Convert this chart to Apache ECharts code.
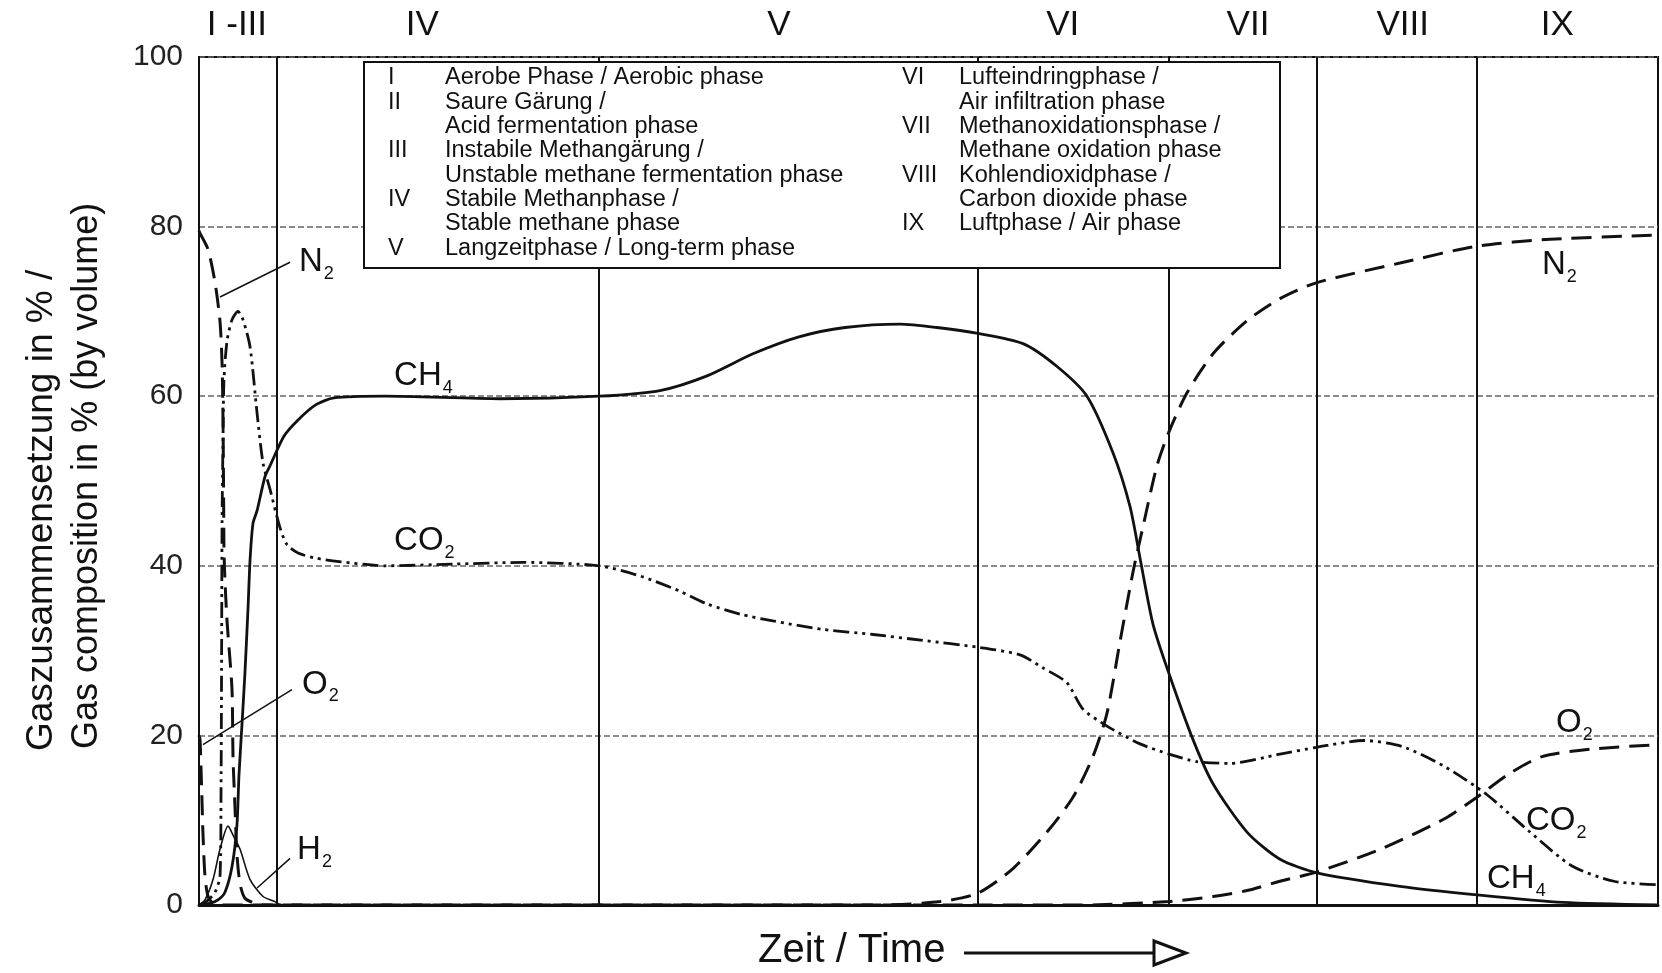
<!DOCTYPE html>
<html>
<head>
<meta charset="utf-8">
<script src="https://cdn.jsdelivr.net/npm/echarts@6/dist/echarts.min.js"></script>
<style>
html,body{margin:0;padding:0;background:#fff;}
#c{width:1662px;height:973px;}
</style>
</head>
<body>
<div id="c"></div>
<script>
const FONT = '"Liberation Sans", Arial, Helvetica, sans-serif';

// ---- Data: x = relative time across the plot (0..100), y = % by volume ----
const ch4 = [[0,0],[0.75,0.2],[1.30,0.6],[1.78,1.5],[2.26,4.5],[2.60,9.4],[2.74,15.3],[2.95,21.4],[3.15,27.4],[3.36,35],[3.50,40.7],[3.70,45],[3.98,46.5],[4.52,50.5],[4.87,51.8],[5.83,55.3],[6.79,57.2],[8.02,59.0],[9.25,59.8],[12.75,60],[20.63,59.7],[27.42,60],[31.67,60.7],[34.82,62.4],[37.97,65.0],[41.12,67.0],[44.28,68.1],[48.05,68.5],[50.58,68.1],[53.39,67.4],[56.48,66.2],[58.81,63.5],[60.86,60],[62.65,53.3],[63.81,47.0],[64.50,40.9],[65.39,33.1],[66.48,27.3],[68.13,19.5],[69.50,14.3],[71.83,8.6],[74.09,5.4],[76.63,3.8],[82.32,2.2],[87.59,1.2],[93.49,0.3],[100,0]];
const co2 = [[0,0],[0.41,0.3],[0.75,0.8],[1.10,1.5],[1.44,3.4],[1.51,13.5],[1.55,29.5],[1.58,45],[1.64,54],[1.71,61.9],[1.92,66.5],[2.26,69],[2.67,70],[3.02,69],[3.50,65.8],[3.98,58],[4.39,52.1],[4.87,49],[5.55,44.5],[6.03,42.5],[6.79,41.5],[8.02,40.9],[9.60,40.5],[12.75,40],[17.48,40.2],[22.21,40.4],[27.42,40],[30.23,38.8],[32.97,37.0],[34.82,35.5],[37.08,34.3],[39.34,33.5],[42.77,32.5],[46.20,31.9],[49.62,31.2],[53.39,30.4],[56.27,29.5],[57.8,28],[59.49,26.2],[60.59,23.1],[62.23,21.1],[64.50,19.0],[66.48,17.8],[68.40,16.9],[70.66,16.7],[74.09,17.8],[76.63,18.6],[79.85,19.4],[82.45,18.7],[85.40,16.3],[88.28,13.0],[91.16,8.7],[94.11,4.6],[96.98,2.8],[100,2.4]];
const n2 = [[0,79.5],[0.07,79.2],[0.62,77.3],[1.10,73.4],[1.44,68.8],[1.58,63.9],[1.64,58],[1.68,50],[1.71,42.3],[1.75,39.5],[1.92,33.5],[2.26,25.5],[2.33,17.5],[2.47,11.4],[2.60,6],[2.81,2.5],[3.15,0.8],[3.84,0.2],[4.5,0],[46.68,0],[50.79,0.4],[53.39,1.4],[55.79,4.3],[58.12,8.6],[59.90,12.7],[61.27,17.5],[62.23,22.6],[63.13,31.1],[64.02,39.3],[64.70,44.6],[65.66,51.8],[66.48,55.8],[67.72,60.4],[69.50,65.0],[71.83,68.9],[74.09,71.5],[76.63,73.4],[82.32,75.7],[87.59,77.7],[92.60,78.5],[100,79.0]];
const o2 = [[0,20],[0.07,19.5],[0.14,16],[0.21,12],[0.27,8.5],[0.41,3.4],[0.62,1],[0.96,0.2],[1.30,0],[60.59,0],[66.48,0.4],[69.50,1.0],[71.83,1.7],[74.09,2.8],[76.63,3.9],[81.01,6.6],[85.40,10.2],[87.59,12.7],[89.72,15.4],[92.05,17.5],[95.54,18.4],[100,18.9]];
const h2 = [[0,0],[0.41,0.6],[0.96,3],[1.44,6.6],[1.99,9.3],[2.40,8],[2.81,6.6],[3.50,3],[4.39,1],[5.21,0.4],[5.55,0]];

const phaseBoundaries = [5.35, 27.4, 53.4, 66.5, 76.6, 87.6];
const phaseNames = ['I -III', 'IV', 'V', 'VI', 'VII', 'VIII', 'IX'];
const phaseNameX = [2.6, 15.3, 39.75, 59.2, 71.9, 82.5, 93.1];
const yTickStep = 20;

const legendCol1 = [
  ['I', 'Aerobe Phase / Aerobic phase'],
  ['II', 'Saure Gärung /'],
  ['', 'Acid fermentation phase'],
  ['III', 'Instabile Methangärung /'],
  ['', 'Unstable methane fermentation phase'],
  ['IV', 'Stabile Methanphase /'],
  ['', 'Stable methane phase'],
  ['V', 'Langzeitphase / Long-term phase']
];
const legendCol2 = [
  ['VI', 'Lufteindringphase /'],
  ['', 'Air infiltration phase'],
  ['VII', 'Methanoxidationsphase /'],
  ['', 'Methane oxidation phase'],
  ['VIII', 'Kohlendioxidphase /'],
  ['', 'Carbon dioxide phase'],
  ['IX', 'Luftphase / Air phase']
];

const yTitle1 = 'Gaszusammensetzung in % /';
const yTitle2 = 'Gas composition in % (by volume)';
const xTitle = 'Zeit / Time';

// curve labels (anchor in data units: left edge, cap centre)
const curveLabels = [
  {main:'N', sub:'2', at:[6.85, 75.8]},
  {main:'O', sub:'2', at:[7.06, 26.0]},
  {main:'H', sub:'2', at:[6.72, 6.5]},
  {main:'CH', sub:'4', at:[13.37, 62.4]},
  {main:'CO', sub:'2', at:[13.37, 42.9]},
  {main:'N', sub:'2', at:[92.05, 75.5]},
  {main:'O', sub:'2', at:[93.01, 21.5]},
  {main:'CO', sub:'2', at:[90.95, 9.9]},
  {main:'CH', sub:'4', at:[88.28, 3.1]}
];
const leaders = [
  [[6.24, 75.8], [1.44, 71.7]],
  [[6.37, 25.4], [0.27, 18.9]],
  [[6.24, 5.5], [3.98, 2.0]]
];

// ---- chart ----
const INK = '#111';
const chart = echarts.init(document.getElementById('c'));

function curve(name, data, lineStyle) {
  return {
    name, type:'line', data, showSymbol:false, symbol:'none', smooth:0.25,
    lineStyle: Object.assign({color:INK}, lineStyle), silent:true, z:3
  };
}

chart.setOption({
  animation:false,
  backgroundColor:'#fff',
  grid:{left:199, right:4, top:57, bottom:68, show:true, borderColor:INK, borderWidth:2, backgroundColor:'transparent'},
  xAxis:{type:'value', min:0, max:100,
    axisLine:{show:true, onZero:false, lineStyle:{color:INK, width:3}},
    axisTick:{show:false}, axisLabel:{show:false}, splitLine:{show:false}},
  yAxis:{type:'value', min:0, max:100, interval:yTickStep,
    axisLine:{show:true, lineStyle:{color:INK, width:2}},
    axisTick:{show:false},
    axisLabel:{fontSize:30, color:'#222', margin:16, fontFamily:FONT},
    splitLine:{show:true, lineStyle:{color:'#666', width:1.5, type:[6,3]}}},
  series:[
    {name:'phases', type:'line', data:[], silent:true, z:2,
      markLine:{silent:true, symbol:['none','none'], label:{show:false},
        lineStyle:{type:'solid', color:INK, width:2},
        data: phaseBoundaries.map(v => ({xAxis:v}))}},
    curve('CO2', co2, {width:2.8, type:[16,5,3,5,3,5]}),
    curve('N2', n2, {width:3, type:[20,10]}),
    curve('O2', o2, {width:3, type:[20,10]}),
    curve('H2', h2, {width:1.6}),
    curve('CH4', ch4, {width:2.8})
  ]
});

// ---- annotations ----
const ctx = document.createElement('canvas').getContext('2d');
function textW(t, size){ ctx.font = size + 'px ' + FONT; return ctx.measureText(t).width; }
function px(p){ return chart.convertToPixel({gridIndex:0}, p); }

const g = [];
const LS = 33;
curveLabels.forEach(l => {
  const [x, y] = px(l.at);
  g.push({type:'text', x, y, z:120, silent:true,
    style:{text:l.main, font:LS+'px '+FONT, fill:INK, textAlign:'left', textVerticalAlign:'middle'}});
  g.push({type:'text', x: x + textW(l.main, LS) + 1, y: y + LS*0.36, z:120, silent:true,
    style:{text:l.sub, font:'18px '+FONT, fill:INK, textAlign:'left', textVerticalAlign:'middle'}});
});
leaders.forEach(([a, b]) => {
  const p1 = px(a), p2 = px(b);
  g.push({type:'line', z:110, silent:true, shape:{x1:p1[0], y1:p1[1], x2:p2[0], y2:p2[1]},
    style:{stroke:INK, lineWidth:1.5}});
});
phaseNames.forEach((t, i) => {
  const x = px([phaseNameX[i], 100])[0];
  g.push({type:'text', x, y:25, z:120, silent:true,
    style:{text:t, font:'35px '+FONT, fill:INK, textAlign:'center', textVerticalAlign:'middle'}});
});
// legend box
g.push({type:'rect', z:100, silent:true, shape:{x:364, y:62, width:916, height:206},
  style:{fill:'#fff', stroke:INK, lineWidth:2}});
const LF = 23.5, rowY0 = 78, rowStep = 24.3;
[[legendCol1, 388, 445], [legendCol2, 902, 959]].forEach(([rows, xn, xt]) => {
  rows.forEach((r, i) => {
    const y = rowY0 + i*rowStep;
    if (r[0]) g.push({type:'text', x:xn, y, z:120, silent:true,
      style:{text:r[0], font:LF+'px '+FONT, fill:INK, textAlign:'left', textVerticalAlign:'middle'}});
    g.push({type:'text', x:xt, y, z:120, silent:true,
      style:{text:r[1], font:LF+'px '+FONT, fill:INK, textAlign:'left', textVerticalAlign:'middle'}});
  });
});
// y-axis title (two lines, reading bottom to top)
g.push({type:'text', x:42, y:751, rotation:Math.PI/2, z:120, silent:true,
  style:{text:yTitle1, font:'37px '+FONT, fill:INK, textAlign:'left', textVerticalAlign:'middle'}});
g.push({type:'text', x:87, y:749, rotation:Math.PI/2, z:120, silent:true,
  style:{text:yTitle2, font:'36px '+FONT, fill:INK, textAlign:'left', textVerticalAlign:'middle'}});
// x title with arrow
g.push({type:'text', x:758, y:951, z:120, silent:true,
  style:{text:xTitle, font:'40px '+FONT, fill:INK, textAlign:'left', textVerticalAlign:'middle'}});
g.push({type:'line', z:110, silent:true, shape:{x1:964, y1:953, x2:1154, y2:953}, style:{stroke:INK, lineWidth:3}});
g.push({type:'polygon', z:111, silent:true, shape:{points:[[1154,941],[1186,953],[1154,965]]},
  style:{fill:'#fff', stroke:INK, lineWidth:3}});

chart.setOption({graphic: g});
</script>
</body>
</html>
